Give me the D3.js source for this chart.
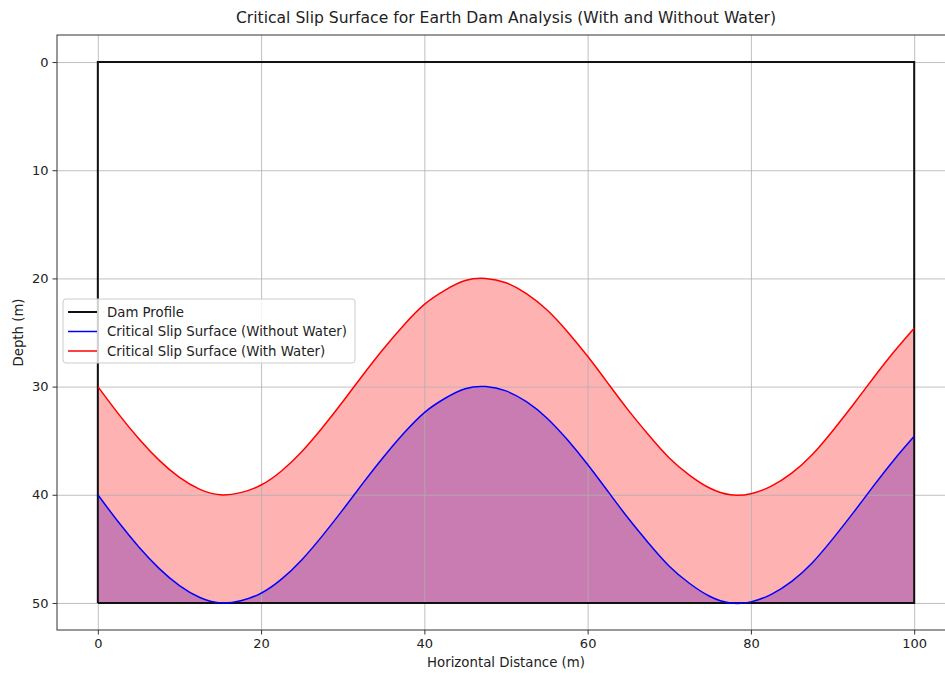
<!DOCTYPE html>
<html>
<head>
<meta charset="utf-8">
<script src="https://cdn.jsdelivr.net/npm/d3@7"></script>
<style>
  body { margin: 0; background: #fff; }
  text { font-family: "DejaVu Sans", sans-serif; fill: #222; }
  .axis path, .axis line { stroke: #333; }
  .grid line { stroke: #b0b0b0; stroke-width: 0.8; }
  .grid path { display: none; }
</style>
</head>
<body>
<div id="vis"></div>
<script>
// horizontal distance (m)
var xs = [0, 2.5, 5, 7.5, 10, 12.5, 15, 17.5, 20, 22.5, 25, 27.5, 30, 32.5, 35, 37.5, 40, 42.5, 45, 47.5,
          50, 52.5, 55, 57.5, 60, 62.5, 65, 67.5, 70, 72.5, 75, 77.5, 80, 82.5, 85, 87.5, 90, 92.5, 95, 97.5, 100];
// depth of slip surface without water (m)
var slipNoWater = [40.0, 42.5, 44.8, 46.8, 48.4, 49.5, 50.0, 49.8, 49.1, 47.8, 46.0, 43.8, 41.4, 38.9, 36.5, 34.3, 32.4, 31.1, 30.2, 30.0,
                   30.4, 31.4, 32.9, 34.9, 37.2, 39.7, 42.2, 44.5, 46.6, 48.2, 49.4, 50.0, 49.9, 49.2, 48.0, 46.3, 44.1, 41.7, 39.2, 36.8, 34.6];
// depth of slip surface with water (m)
var slipWithWater = [30.0, 32.5, 34.8, 36.8, 38.4, 39.5, 40.0, 39.8, 39.1, 37.8, 36.0, 33.8, 31.4, 28.9, 26.5, 24.3, 22.4, 21.1, 20.2, 20.0,
                     20.4, 21.4, 22.9, 24.9, 27.2, 29.7, 32.2, 34.5, 36.6, 38.2, 39.4, 40.0, 39.9, 39.2, 38.0, 36.3, 34.1, 31.7, 29.2, 26.8, 24.6];
var damX = [0, 0, 100, 100, 0];
var damY = [50, 0, 0, 50, 50];
var baseDepth = 50;
var xTicks = [0, 20, 40, 60, 80, 100];
var yTicks = [0, 10, 20, 30, 40, 50];

var width = 945, height = 673;
var margin = { top: 35, left: 57 };
var plotW = 898, plotH = 595;

var svg = d3.select('#vis').append('svg')
    .attr('width', width)
    .attr('height', height);

var xScale = d3.scaleLinear().domain([-5, 105]).range([margin.left, margin.left + plotW]);
var yScale = d3.scaleLinear().domain([-2.5, 52.5]).range([margin.top, margin.top + plotH]);

var pts = xs.map(function(x, i) { return { x: x, a: slipNoWater[i], b: slipWithWater[i] }; });

var g = svg.append('g');

// fills
var areaBlue = d3.area().curve(d3.curveNatural)
    .x(function(d) { return xScale(d.x); })
    .y0(yScale(baseDepth))
    .y1(function(d) { return yScale(d.a); });
var areaRed = d3.area().curve(d3.curveNatural)
    .x(function(d) { return xScale(d.x); })
    .y0(yScale(baseDepth))
    .y1(function(d) { return yScale(d.b); });

g.append('path').datum(pts).attr('d', areaBlue).attr('fill', 'blue').attr('fill-opacity', 0.3);
g.append('path').datum(pts).attr('d', areaRed).attr('fill', 'red').attr('fill-opacity', 0.3);

// grid
g.append('g').attr('class', 'grid')
    .attr('transform', 'translate(0,' + (margin.top + plotH) + ')')
    .call(d3.axisBottom(xScale).tickValues(xTicks).tickSize(-plotH).tickFormat(''));
g.append('g').attr('class', 'grid')
    .attr('transform', 'translate(' + margin.left + ',0)')
    .call(d3.axisLeft(yScale).tickValues(yTicks).tickSize(-plotW).tickFormat(''));

// dam profile
var damLine = d3.line()
    .x(function(d) { return xScale(d[0]); })
    .y(function(d) { return yScale(d[1]); });
g.append('path').datum(damX.map(function(x, i) { return [x, damY[i]]; }))
    .attr('d', damLine).attr('fill', 'none').attr('stroke', '#111').attr('stroke-width', 2);

var lineBlue = d3.line().curve(d3.curveNatural)
    .x(function(d) { return xScale(d.x); })
    .y(function(d) { return yScale(d.a); });
var lineRed = d3.line().curve(d3.curveNatural)
    .x(function(d) { return xScale(d.x); })
    .y(function(d) { return yScale(d.b); });
g.append('path').datum(pts).attr('d', lineBlue).attr('fill', 'none').attr('stroke', 'blue').attr('stroke-width', 1.5);
g.append('path').datum(pts).attr('d', lineRed).attr('fill', 'none').attr('stroke', 'red').attr('stroke-width', 1.5);

// axes frame
svg.append('rect')
    .attr('x', margin.left).attr('y', margin.top)
    .attr('width', plotW).attr('height', plotH)
    .attr('fill', 'none').attr('stroke', '#333').attr('stroke-width', 1);

var xAxis = svg.append('g').attr('class', 'axis')
    .attr('transform', 'translate(0,' + (margin.top + plotH) + ')')
    .call(d3.axisBottom(xScale).tickValues(xTicks).tickSize(4.5).tickPadding(4).tickSizeOuter(0));
xAxis.select('.domain').remove();
xAxis.selectAll('text').style('font-size', '13px').attr('fill', '#222');

var yAxis = svg.append('g').attr('class', 'axis')
    .attr('transform', 'translate(' + margin.left + ',0)')
    .call(d3.axisLeft(yScale).tickValues(yTicks).tickSize(4.5).tickPadding(4).tickSizeOuter(0));
yAxis.select('.domain').remove();
yAxis.selectAll('text').style('font-size', '13px').attr('fill', '#222');

// title and labels
svg.append('text')
    .attr('x', margin.left + plotW / 2).attr('y', 23)
    .attr('text-anchor', 'middle').style('font-size', '15.6px')
    .text('Critical Slip Surface for Earth Dam Analysis (With and Without Water)');
svg.append('text')
    .attr('x', margin.left + plotW / 2).attr('y', 667)
    .attr('text-anchor', 'middle').style('font-size', '13.3px')
    .text('Horizontal Distance (m)');
svg.append('text')
    .attr('transform', 'translate(23,' + (margin.top + plotH / 2) + ') rotate(-90)')
    .attr('text-anchor', 'middle').style('font-size', '13.3px')
    .text('Depth (m)');

// legend
var legendItems = [
    { label: 'Dam Profile', color: '#111', w: 2 },
    { label: 'Critical Slip Surface (Without Water)', color: 'blue', w: 1.5 },
    { label: 'Critical Slip Surface (With Water)', color: 'red', w: 1.5 }
];
var legend = svg.append('g').attr('transform', 'translate(63,299)');
legend.append('rect')
    .attr('width', 292).attr('height', 64).attr('rx', 3)
    .attr('fill', 'white').attr('fill-opacity', 0.8)
    .attr('stroke', '#ccc').attr('stroke-width', 1);
legendItems.forEach(function(d, i) {
    var y = 13 + i * 19.5;
    legend.append('line')
        .attr('x1', 5).attr('x2', 34).attr('y1', y).attr('y2', y)
        .attr('stroke', d.color).attr('stroke-width', d.w);
    legend.append('text')
        .attr('x', 44).attr('y', y + 4.5)
        .style('font-size', '13.3px')
        .text(d.label);
});
</script>
</body>
</html>
